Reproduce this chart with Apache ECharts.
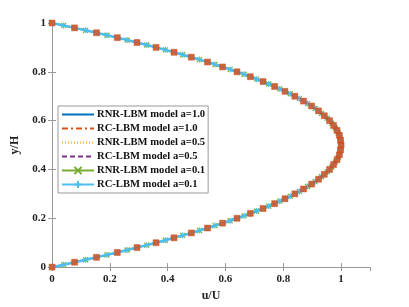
<!DOCTYPE html>
<html>
<head>
<meta charset="utf-8">
<script src="https://cdn.jsdelivr.net/npm/echarts@6/dist/echarts.min.js"></script>
<style>html,body{margin:0;padding:0;background:#fff}#c{width:409px;height:307px}</style>
</head>
<body>
<div id="c"></div>
<script>
// y/H positions (fine sampling)
var yPos = [0,0.01,0.02,0.03,0.04,0.05,0.06,0.07,0.08,0.09,0.10,0.11,0.12,0.13,0.14,0.15,0.16,0.17,0.18,0.19,0.20,
0.21,0.22,0.23,0.24,0.25,0.26,0.27,0.28,0.29,0.30,0.31,0.32,0.33,0.34,0.35,0.36,0.37,0.38,0.39,0.40,
0.41,0.42,0.43,0.44,0.45,0.46,0.47,0.48,0.49,0.50,0.51,0.52,0.53,0.54,0.55,0.56,0.57,0.58,0.59,0.60,
0.61,0.62,0.63,0.64,0.65,0.66,0.67,0.68,0.69,0.70,0.71,0.72,0.73,0.74,0.75,0.76,0.77,0.78,0.79,0.80,
0.81,0.82,0.83,0.84,0.85,0.86,0.87,0.88,0.89,0.90,0.91,0.92,0.93,0.94,0.95,0.96,0.97,0.98,0.99,1.00];
// u/U velocity profile values read at each y/H
var uProfile = [0,0.040,0.078,0.116,0.154,0.190,0.226,0.260,0.294,0.328,0.360,0.392,0.422,0.452,0.482,0.510,0.538,0.564,0.590,0.616,0.640,
0.664,0.686,0.708,0.730,0.750,0.770,0.788,0.806,0.824,0.840,0.856,0.870,0.884,0.898,0.910,0.922,0.932,0.942,0.952,0.960,
0.968,0.974,0.980,0.986,0.990,0.994,0.996,0.998,1.000,1.000,1.000,0.998,0.996,0.994,0.990,0.986,0.980,0.974,0.968,0.960,
0.952,0.942,0.932,0.922,0.910,0.898,0.884,0.870,0.856,0.840,0.824,0.806,0.788,0.770,0.750,0.730,0.708,0.686,0.664,0.640,
0.616,0.590,0.564,0.538,0.510,0.482,0.452,0.422,0.392,0.360,0.328,0.294,0.260,0.226,0.190,0.154,0.116,0.078,0.040,0];
var seriesNames = ['RNR-LBM model a=1.0','RC-LBM model a=1.0','RNR-LBM model a=0.5','RC-LBM model a=0.5','RNR-LBM model a=0.1','RC-LBM model a=0.1'];
var xTicks = [0,0.2,0.4,0.6,0.8,1];
var yTicks = [0,0.2,0.4,0.6,0.8,1];

var pts = yPos.map(function(y,i){return [uProfile[i], y];});
var squarePts = pts.filter(function(p,i){return i%2===0;});

var font = '"Liberation Serif","Times New Roman",serif';
var axisCol = '#999999';
var crossX = 'path://M0,0L10,10M10,0L0,10';
var plus = 'path://M5,0L5,10M0,5L10,5';
var smallX = 'path://M-8,-8L-8,-8M3,3L7,7M7,3L3,7M18,18L18,18';
var smallPlus = 'path://M-8,-8L-8,-8M5,2L5,8M2,5L8,5M18,18L18,18';

var hidden = {opacity:0, color:'transparent', borderWidth:0};
var legendData = seriesNames.map(function(n,i){
  return i < 4 ? {name:n, itemStyle:hidden} : {name:n};
});

var chart = echarts.init(document.getElementById('c'));
chart.setOption({
  animation:false,
  backgroundColor:'#fff',
  grid:{left:52,top:23,right:39,bottom:34,containLabel:false},
  xAxis:[{
    type:'value',min:0,max:1.1,interval:0.2,position:'bottom',
    name:'u/U',nameLocation:'middle',nameGap:20,
    nameTextStyle:{fontFamily:font,fontWeight:'bold',fontSize:12,color:'#222'},
    axisLine:{lineStyle:{color:axisCol,width:1}},
    axisTick:{inside:true,length:4,lineStyle:{color:axisCol}},
    axisLabel:{fontFamily:font,fontWeight:'bold',fontSize:11,color:'#222',margin:7,showMaxLabel:false,
      formatter:function(v){return xTicks.indexOf(Math.round(v*10)/10)>=0?String(Math.round(v*10)/10):'';}},
    splitLine:{show:false}
  },{
    type:'value',min:0,max:1.1,interval:0.2,position:'top',
    axisLine:{lineStyle:{color:axisCol,width:1}},
    axisTick:{inside:true,length:4,lineStyle:{color:axisCol}},
    axisLabel:{show:false},splitLine:{show:false}
  }],
  yAxis:[{
    type:'value',min:0,max:1,interval:0.2,position:'left',
    name:'y/H',nameLocation:'middle',nameGap:28,
    nameTextStyle:{fontFamily:font,fontWeight:'bold',fontSize:12,color:'#222'},
    axisLine:{lineStyle:{color:axisCol,width:1}},
    axisTick:{inside:true,length:4,lineStyle:{color:axisCol}},
    axisLabel:{fontFamily:font,fontWeight:'bold',fontSize:11,color:'#222',margin:6,
      formatter:function(v){return yTicks.indexOf(Math.round(v*10)/10)>=0?String(Math.round(v*10)/10):'';}},
    splitLine:{show:false}
  },{
    type:'value',min:0,max:1,interval:0.2,position:'right',
    axisLine:{lineStyle:{color:axisCol,width:1}},
    axisTick:{inside:true,length:4,lineStyle:{color:axisCol}},
    axisLabel:{show:false},splitLine:{show:false}
  }],
  legend:{
    data:legendData,
    orient:'vertical',left:58,top:106,
    backgroundColor:'#fff',borderColor:'#999',borderWidth:1,
    padding:[3,3,3,3],itemGap:3,itemWidth:32,itemHeight:9,
    textStyle:{fontFamily:font,fontWeight:'bold',fontSize:10.6,color:'#111',padding:[0,0,0,-2]}
  },
  series:[
    {name:seriesNames[0],type:'line',data:pts,showSymbol:false,symbol:'none',color:'#0072BD',
      lineStyle:{color:'#0072BD',width:1.5},z:2},
    {name:seriesNames[1],type:'line',data:pts,showSymbol:false,symbol:'none',color:'#D95319',
      lineStyle:{color:'#D95319',width:1.5,type:[6,3,2,3]},z:3},
    {name:seriesNames[2],type:'line',data:pts,showSymbol:false,symbol:'none',color:'#EDB120',
      lineStyle:{color:'#EDB120',width:1,type:[1,2]},z:4},
    {name:seriesNames[3],type:'line',data:pts,showSymbol:false,symbol:'none',color:'#7E2F8E',
      lineStyle:{color:'#7E2F8E',width:1,type:[5,3]},z:5},
    {name:seriesNames[4],type:'line',data:pts,symbol:crossX,symbolSize:5,showAllSymbol:true,color:'#77AC30',
      lineStyle:{color:'#77AC30',width:1},itemStyle:{color:'#77AC30',borderColor:'#77AC30',borderWidth:1.2},z:6},
    {name:seriesNames[5],type:'line',data:pts,symbol:plus,symbolSize:6,showAllSymbol:true,color:'#4DBEEE',
      lineStyle:{color:'#4DBEEE',width:2.5},itemStyle:{color:'#4DBEEE',borderColor:'#4DBEEE',borderWidth:1.2},z:7},
    {name:'RC-LBM a=1.0 markers',type:'scatter',data:squarePts,symbol:'rect',symbolSize:6,
      itemStyle:{color:'#DD4E1C',borderColor:'#C4401A',borderWidth:0.5},z:8}
  ]
});
</script>
</body>
</html>
